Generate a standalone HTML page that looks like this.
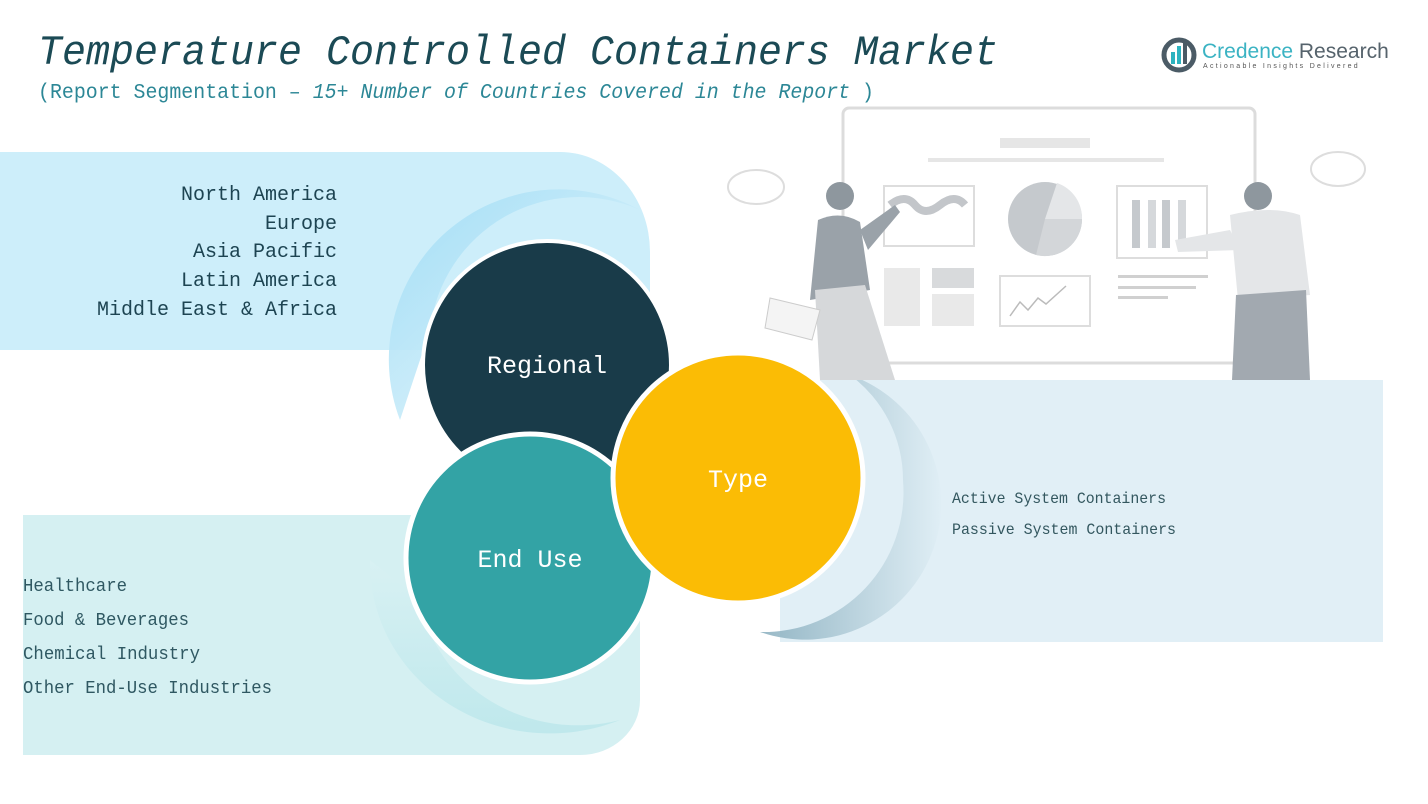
<!DOCTYPE html>
<html><head><meta charset="utf-8"><style>
html,body{margin:0;padding:0;background:#fff;}
svg{display:block;}
text{font-family:"Liberation Mono","DejaVu Sans Mono",monospace;}
</style></head><body>
<svg width="1428" height="804" viewBox="0 0 1428 804" xmlns="http://www.w3.org/2000/svg">
<defs>
<linearGradient id="gb" x1="0" y1="0" x2="1" y2="1"><stop offset="0" stop-color="#9fdcf5"/><stop offset="1" stop-color="#e8f7fc"/></linearGradient>
<linearGradient id="gt" x1="0" y1="0" x2="0" y2="1"><stop offset="0" stop-color="#d8f1f3"/><stop offset="1" stop-color="#bfe8ec"/></linearGradient>
<linearGradient id="gr" x1="0" y1="0" x2="1" y2="0"><stop offset="0" stop-color="#7fa7b8"/><stop offset="1" stop-color="#dfeef5"/></linearGradient>
</defs>
<path d="M0 152 H560 A90 100 0 0 1 650 252 V350 H0 Z" fill="#cdeefa"/>
<path d="M23 515 H640 V700 A60 55 0 0 1 580 755 H23 Z" fill="#d5f0f2"/>
<rect x="780" y="380" width="603" height="262" fill="#e1eff6"/>
<path d="M400 420 A170 170 0 0 1 640 210 A150 150 0 0 0 430 330 Z" fill="url(#gb)" opacity="0.9"/>
<path d="M370 560 A180 170 0 0 0 620 720 A160 150 0 0 1 420 600 Z" fill="url(#gt)"/>
<path d="M850 375 A135 135 0 0 1 760 632 A140 140 0 0 0 903 480 A130 130 0 0 0 850 375 Z" fill="url(#gr)" opacity="0.8"/>

<g fill="none" stroke="#dcdcdc" stroke-width="3">
<rect x="843" y="108" width="412" height="255" rx="6"/>
</g>
<rect x="1000" y="138" width="90" height="10" fill="#e6e6e6"/>
<rect x="928" y="158" width="236" height="4" fill="#e6e6e6"/>
<rect x="884" y="186" width="90" height="60" fill="none" stroke="#ddd" stroke-width="2"/>
<path d="M890 205 q15 -12 25 0 t25 0 t25 0" stroke="#c3c6ca" stroke-width="8" fill="none"/>
<ellipse cx="1045" cy="219" rx="37" ry="37" fill="#c5c9cd"/>
<path d="M1045 219 L1057 183 A37 37 0 0 1 1082 219 Z" fill="#e4e6e8"/>
<path d="M1045 219 L1082 219 A37 37 0 0 1 1036 255 Z" fill="#d3d6d9"/>
<rect x="1117" y="186" width="90" height="72" fill="none" stroke="#ddd" stroke-width="2"/>
<rect x="1132" y="200" width="8" height="48" fill="#c5c9cd"/><rect x="1148" y="200" width="8" height="48" fill="#d5d8db"/><rect x="1162" y="200" width="8" height="48" fill="#c5c9cd"/><rect x="1178" y="200" width="8" height="48" fill="#d5d8db"/>
<rect x="884" y="268" width="36" height="58" fill="#e9e9e9"/><rect x="932" y="268" width="42" height="20" fill="#d8dadc"/><rect x="932" y="294" width="42" height="32" fill="#e9e9e9"/>
<rect x="1000" y="276" width="90" height="50" fill="none" stroke="#ddd" stroke-width="2"/>
<path d="M1010 316 l10 -14 l8 8 l10 -12 l8 6 l20 -18" stroke="#bbb" stroke-width="1.5" fill="none"/>
<rect x="1118" y="275" width="90" height="3" fill="#d0d0d0"/><rect x="1118" y="286" width="78" height="3" fill="#d0d0d0"/><rect x="1118" y="296" width="50" height="3" fill="#d0d0d0"/>
<ellipse cx="756" cy="187" rx="28" ry="17" fill="none" stroke="#ddd" stroke-width="2"/>
<ellipse cx="1338" cy="169" rx="27" ry="17" fill="none" stroke="#ddd" stroke-width="2"/>
<circle cx="840" cy="196" r="14" fill="#8e979e"/>
<path d="M818 220 Q840 210 860 222 L870 290 L810 300 Z" fill="#9aa2a9"/>
<path d="M860 230 L895 205 L900 212 L868 250 Z" fill="#9aa2a9"/>
<path d="M815 290 L865 285 L895 380 L820 380 Z" fill="#d6d8da"/>
<path d="M770 298 L820 310 L812 340 L765 328 Z" fill="#f4f4f4" stroke="#ccc"/>
<circle cx="1258" cy="196" r="14" fill="#8e979e"/>
<path d="M1230 215 Q1270 205 1300 215 L1310 295 L1238 300 Z" fill="#e4e6e8"/>
<path d="M1230 230 L1175 240 L1178 252 L1240 250 Z" fill="#e4e6e8"/>
<path d="M1236 295 L1306 290 L1310 380 L1232 380 Z" fill="#a2a9b0"/>

<circle cx="547" cy="365" r="124" fill="#193b49" stroke="#fff" stroke-width="4"/>
<circle cx="530" cy="558" r="124" fill="#33a3a5" stroke="#fff" stroke-width="5"/>
<circle cx="738" cy="478" r="125" fill="#fbbc05" stroke="#fff" stroke-width="5"/>
<text x="547" y="373" font-size="25" fill="#fff" text-anchor="middle">Regional</text>
<text x="530" y="567" font-size="25" fill="#fff" text-anchor="middle">End Use</text>
<text x="738" y="487" font-size="25" fill="#fff" text-anchor="middle">Type</text>

<text x="38" y="64" font-size="42" font-style="italic" fill="#1b4a55" textLength="960" lengthAdjust="spacingAndGlyphs">Temperature Controlled Containers Market</text>
<text x="38" y="98" font-size="21" fill="#2c8796" textLength="836" lengthAdjust="spacingAndGlyphs">(Report Segmentation – <tspan font-style="italic">15+ Number of Countries Covered in the Report</tspan> )</text>

<circle cx="1179" cy="55" r="15" fill="none" stroke="#4b5b66" stroke-width="5"/>
<rect x="1171" y="52" width="4" height="12" fill="#2cb3c0"/><rect x="1177" y="46" width="4" height="18" fill="#2cb3c0"/><rect x="1183" y="42" width="4" height="22" fill="#4b5b66"/>
<text x="1202" y="58" font-size="21" fill="#3bb3c3" style="font-family:'Liberation Sans',sans-serif">Credence <tspan fill="#56636c">Research</tspan></text>
<text x="1203" y="68" font-size="7" fill="#555" letter-spacing="2.3" style="font-family:'Liberation Sans',sans-serif">Actionable Insights Delivered</text>

<g font-size="20" fill="#1d4452" text-anchor="end">
<text x="337" y="200">North America</text>
<text x="337" y="229">Europe</text>
<text x="337" y="257">Asia Pacific</text>
<text x="337" y="286">Latin America</text>
<text x="337" y="315">Middle East &amp; Africa</text>
</g>
<g font-size="16" fill="#33575f">
<text x="952" y="503" textLength="214" lengthAdjust="spacingAndGlyphs">Active System Containers</text>
<text x="952" y="534" textLength="224" lengthAdjust="spacingAndGlyphs">Passive System Containers</text>
</g>
<g font-size="18" fill="#2f5862">
<text x="23" y="591" textLength="104" lengthAdjust="spacingAndGlyphs">Healthcare</text>
<text x="23" y="625" textLength="166" lengthAdjust="spacingAndGlyphs">Food &amp; Beverages</text>
<text x="23" y="659" textLength="177" lengthAdjust="spacingAndGlyphs">Chemical Industry</text>
<text x="23" y="693" textLength="249" lengthAdjust="spacingAndGlyphs">Other End-Use Industries</text>
</g>
</svg>
</body></html>
